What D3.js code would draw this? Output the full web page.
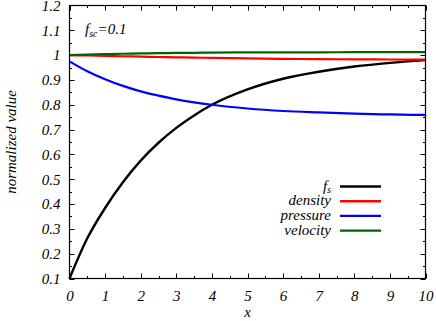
<!DOCTYPE html>
<html><head><meta charset="utf-8">
<script src="https://cdn.jsdelivr.net/npm/d3@7"></script>
<style>body{margin:0;background:#fff}svg text{font-family:"Liberation Serif","Times New Roman",serif;font-style:italic;fill:#000}</style>
</head><body><svg id="c" width="436" height="321"></svg>
<script>
const xs = [0,0.5,1,1.5,2,2.5,3,3.5,4,5,6,7,8,9,10];
const fs = [0.1,0.262,0.384,0.488,0.575,0.647,0.707,0.757,0.80,0.862,0.905,0.933,0.954,0.969,0.980];
const density = [1.0,0.9985,0.997,0.9955,0.994,0.9925,0.991,0.990,0.989,0.987,0.985,0.984,0.983,0.9825,0.982];
const pressure = [0.975,0.935,0.903,0.876,0.854,0.837,0.822,0.810,0.800,0.785,0.775,0.769,0.764,0.761,0.759];
const velocity = [1.0,1.002,1.004,1.0055,1.007,1.008,1.009,1.0095,1.010,1.011,1.0112,1.0115,1.0118,1.012,1.012];
const seriesNames = ["f_s","density","pressure","velocity"];
const seriesColors = ["#000000","#ff0000","#0000ff","#006400"];
const xTicks = [0,1,2,3,4,5,6,7,8,9,10];
const yTicks = [0.1,0.2,0.3,0.4,0.5,0.6,0.7,0.8,0.9,1,1.1,1.2];

const FONT = "'Liberation Serif','Times New Roman',serif";
const svg = d3.select("#c");
const L=69.5,R=425.5,T=5.5,B=278.5;
const x = d3.scaleLinear().domain([0,10]).range([L,R]);
const y = d3.scaleLinear().domain([0.1,1.2]).range([B,T]);

const g = svg.append("g");
const xMinor = d3.range(0,10.01,0.5), yMinor = d3.range(0.1,1.201,0.05);
function tick(x1,y1,x2,y2){g.append("line").attr("x1",x1).attr("y1",y1).attr("x2",x2).attr("y2",y2).attr("stroke","#000").attr("stroke-width",1);}
xMinor.forEach(v=>{const major=Math.abs(v-Math.round(v))<1e-6;const len=major?5:2.5;const px=Math.round(x(v))+0.5;tick(px,B,px,B-len);tick(px,T,px,T+len);});
yMinor.forEach(v=>{const major=Math.abs(v*10-Math.round(v*10))<1e-6;const len=major?5:2.5;const py=Math.round(y(v))+0.5;tick(L,py,L+len,py);tick(R,py,R-len,py);});

const xa = svg.append("g").attr("transform",`translate(0,${B})`).call(d3.axisBottom(x).tickValues(xTicks).tickSize(0).tickPadding(12).tickFormat(d3.format("d")));
const ya = svg.append("g").attr("transform",`translate(${L},0)`).call(d3.axisLeft(y).tickValues(yTicks).tickSize(0).tickPadding(9).tickFormat(d=>d3.format("")(+d.toFixed(1))));
[xa,ya].forEach(a=>{a.attr("font-family",FONT).attr("font-size",15);a.select(".domain").remove();a.selectAll("text").style("font-family",FONT).style("font-style","italic").style("font-size","15px").attr("fill","#000");});

const data = [fs,density,pressure,velocity];
const line = d3.line().x((d,i)=>x(xs[i])).y(d=>y(d)).curve(d3.curveMonotoneX);
const plot = svg.append("g");
data.forEach((s,k)=>{plot.append("path").datum(s).attr("d",line).attr("fill","none").attr("stroke",seriesColors[k]).attr("stroke-width",k===0?2.4:2.2);});

svg.append("rect").attr("x",L).attr("y",T).attr("width",R-L).attr("height",B-T).attr("fill","none").attr("stroke","#000").attr("stroke-width",1.2);

const lg = svg.append("g");
seriesNames.forEach((n,i)=>{
  const yy = 186.5 + i*14.7;
  const t = lg.append("text").attr("x",331).attr("y",yy+4).attr("text-anchor","end").style("font-size","15px");
  if(n==="f_s"){t.append("tspan").text("f");t.append("tspan").attr("dy",2).style("font-size","10px").text("s");}
  else t.text(n);
  lg.append("line").attr("x1",340).attr("x2",381).attr("y1",yy).attr("y2",yy).attr("stroke",seriesColors[i]).attr("stroke-width",2.4);
});

const an = svg.append("text").attr("x",85).attr("y",34).style("font-size","15px");
an.append("tspan").text("f");
an.append("tspan").attr("dy",3).style("font-size","10px").text("sc");
an.append("tspan").attr("dy",-3).text("=0.1");

svg.append("text").attr("x",x(5)).attr("y",317).attr("text-anchor","middle").style("font-size","15px").text("x");
svg.append("text").attr("transform",`translate(16,${(T+B)/2}) rotate(-90)`).attr("text-anchor","middle").style("font-size","15px").text("normalized value");
</script></body></html>
